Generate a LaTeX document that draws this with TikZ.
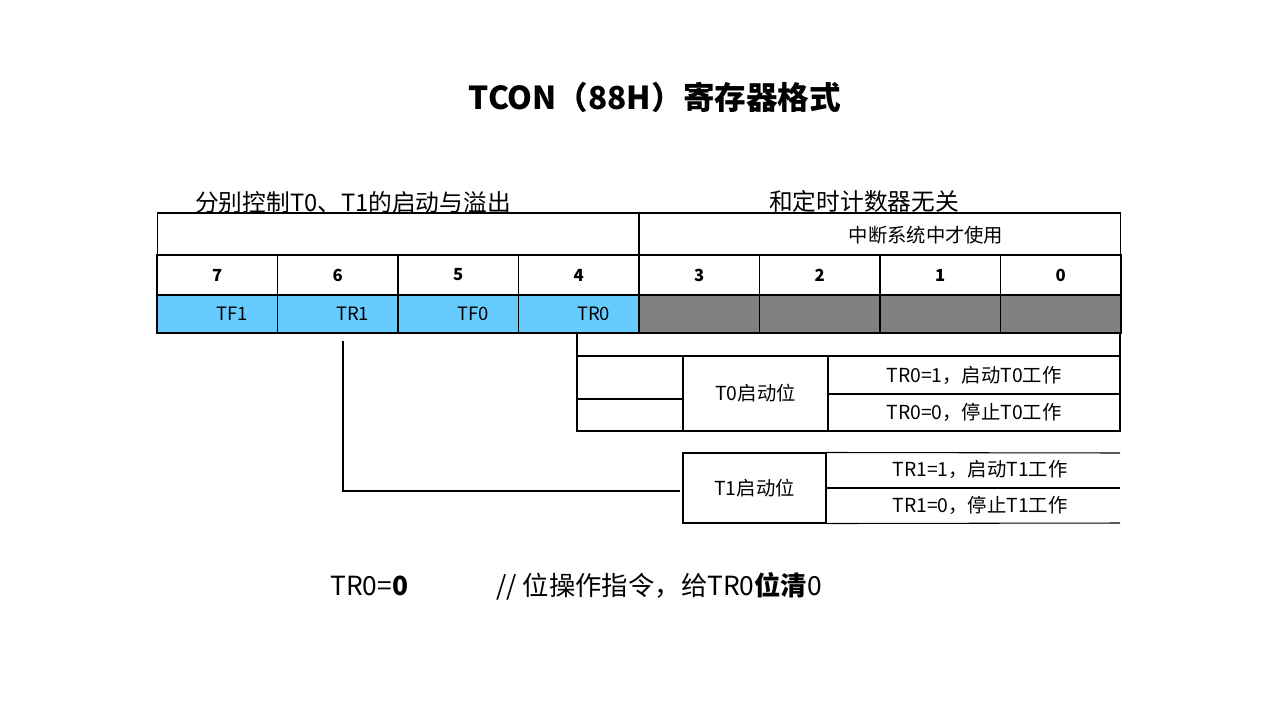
\documentclass[tikz,border=0pt]{standalone}
\usepackage{fontspec}
\setmainfont{Noto Sans CJK SC}
\usetikzlibrary{positioning,calc}

\begin{document}
\begin{tikzpicture}[
  x=0.02cm, y=-0.02cm,
  cell/.style={draw, line width=0.6pt, inner sep=0pt, minimum width=2.41cm, font=\fontsize{11}{13}\selectfont},
  bitcell/.style={cell, minimum height=0.8cm, font=\fontsize{9.5}{11}\selectfont\bfseries},
  namecell/.style={cell, minimum height=0.76cm, font=\fontsize{10.5}{12}\selectfont},
  info/.style={inner sep=0pt, font=\fontsize{11}{13}\selectfont},
  head/.style={inner sep=0pt, font=\fontsize{13.5}{15}\selectfont},
  rule/.style={line width=0.6pt}]
  \fill[white] (0,0) rectangle (1280,720);
  \useasboundingbox (0,0) rectangle (1280,720);
  % title and headers
  \node[font=\fontsize{18}{20}\selectfont\bfseries] (title) at (655,97) {TCON（88H）寄存器格式};
  \node[head] (hleft) at (353,202) {分别控制T0、T1的启动与溢出};
  \node[head] (hright) at (864,201) {和定时计数器无关};
  % register
  \node[cell, minimum width=9.64cm, minimum height=0.84cm] (topL) at (398,234) {};
  \node[cell, minimum width=9.64cm, minimum height=0.84cm] (topR) at (880,234) {};
  \node[info] (irq) at (926,235) {中断系统中才使用};
  \foreach \b [count=\i from 0] in {7,6,5,4,3,2,1,0} {
    \node[bitcell] (bit\b) at (217.25+\i*120.5,275) {\b};
  }
  \foreach \b/\n [count=\i from 0] in {7/TF1,6/TR1,5/TF0,4/TR0} {
    \node[namecell, fill={rgb,255:red,102;green,204;blue,255}] (name\b) at (217.25+\i*120.5,314) {\hspace*{1.9em}\n\hspace*{0.3em}};
  }
  \foreach \b [count=\i from 4] in {3,2,1,0} {
    \node[namecell, fill={rgb,255:red,128;green,128;blue,128}] (name\b) at (217.25+\i*120.5,314) {};
  }
  % T0 start bit
  \draw[rule] (577,333) rectangle (1120,356);
  \draw[rule] (577,356) rectangle (683,399);
  \draw[rule] (577,399) rectangle (683,431);
  \node[cell, minimum width=2.9cm, minimum height=1.5cm] (t0bit) at (755.5,393.5) {T0启动位};
  \node[cell, minimum width=5.84cm, minimum height=0.76cm] (t0on) at (974,375) {TR0=1，启动T0工作};
  \node[cell, minimum width=5.84cm, minimum height=0.74cm] (t0off) at (974,412.5) {TR0=0，停止T0工作};
  % T1 start bit
  \node[cell, minimum width=2.86cm, minimum height=1.4cm] (t1bit) at (754.5,488) {T1启动位};
  \node[info] (t1on) at (980,469) {TR1=1，启动T1工作};
  \node[info] (t1off) at (980,505) {TR1=0，停止T1工作};
  \draw[rule] (t1bit.north east) -- (1120,453);
  \draw[rule] (t1bit.east) -- (1120,488);
  \draw[rule] (t1bit.south east) -- (1120,523);
  % connector
  \draw[rule] ([xshift=3pt,yshift=-4.5pt]name6.south) |- ([xshift=-1.7pt,yshift=-1.7pt]t1bit.west);
  % instruction
  \node[font=\fontsize{15}{17}\selectfont, anchor=west, inner sep=0pt] (instr) at (330,586) {TR0=\textbf{0}};
  \node[font=\fontsize{15}{17}\selectfont, anchor=west, inner sep=0pt] (note) at (496,586) {// 位操作指令，给TR0\textbf{位清}0};
\end{tikzpicture}
\end{document}
